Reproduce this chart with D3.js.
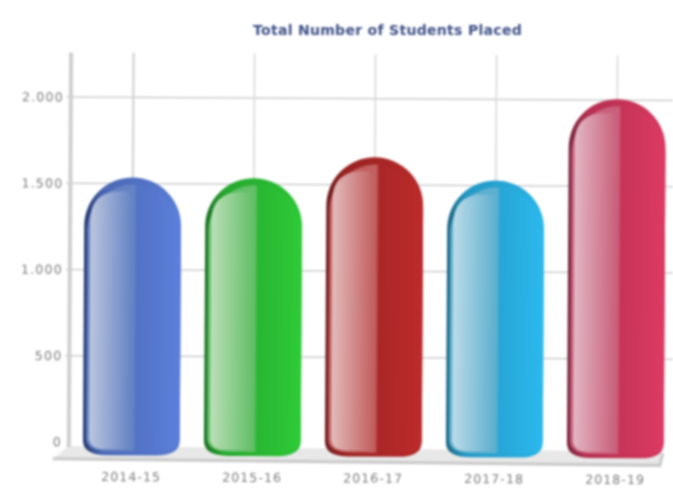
<!DOCTYPE html>
<html>
<head>
<meta charset="utf-8">
<script src="https://cdn.jsdelivr.net/npm/d3@7/dist/d3.min.js"></script>
<style>
  html, body { margin: 0; padding: 0; background: #fff; }
  svg { display: block; filter: blur(0.8px); }
</style>
</head>
<body>
<div id="chart"></div>
<script>
const title = "Total Number of Students Placed";
const years = ["2014-15", "2015-16", "2016-17", "2017-18", "2018-19"];
const placed = [1535, 1535, 1660, 1530, 2005];
const yTicks = [0, 500, 1000, 1500, 2000];

const baseColors = ["#5b7fdb", "#2ecb38", "#bd2b2b", "#2bb9ee", "#dd3a62"];
const midColors = ["#6583c4", "#63bf68", "#c25f5f", "#5fb0cf", "#c9607b"];
const lightColors = ["#bcc6de", "#bcdfb8", "#e2bcbc", "#bcdce8", "#e2b8c4"];
const rimColors = ["#27396f", "#1b6f25", "#6e1c1c", "#1d6580", "#752640"];

const width = 673, height = 490;
const bottomDrop = 13; // bars hang a little below the zero line

const svg = d3.select("#chart").append("svg")
  .attr("width", width)
  .attr("height", height);

const defs = svg.append("defs");
const root = svg.append("g").attr("transform", "rotate(0.33 336 245)");

const x = d3.scaleBand().domain(years).range([72, 677]).paddingInner(0.2).paddingOuter(0.1);
const y = d3.scaleLinear().domain([0, 2000]).range([443.5, 98.5]);

// gradients for each bar: shell, body and shine
years.forEach((yr, i) => {
  const base = d3.color(baseColors[i]);

  const shell = defs.append("linearGradient").attr("id", `shell${i}`);
  shell.append("stop").attr("offset", "0").attr("stop-color", rimColors[i]);
  shell.append("stop").attr("offset", "0.2").attr("stop-color", base.darker(0.55));
  shell.append("stop").attr("offset", "1").attr("stop-color", base.darker(0.1));

  const body = defs.append("linearGradient").attr("id", `body${i}`);
  body.append("stop").attr("offset", "0").attr("stop-color", midColors[i]);
  body.append("stop").attr("offset", "0.5").attr("stop-color", midColors[i]);
  body.append("stop").attr("offset", "0.53").attr("stop-color", base.darker(0.3));
  body.append("stop").attr("offset", "1").attr("stop-color", base);

  const shine = defs.append("linearGradient").attr("id", `shine${i}`);
  shine.append("stop").attr("offset", "0").attr("stop-color", lightColors[i]);
  shine.append("stop").attr("offset", "1").attr("stop-color", midColors[i]);
});

// axes
const yAxis = d3.axisLeft(y)
  .tickValues(yTicks)
  .tickSize(0)
  .tickPadding(3)
  .tickFormat(d => d3.format(",")(d).replace(",", "."));

const xAxis = d3.axisBottom(x).tickSize(0).tickPadding(0);

root.append("g").selectAll("line")
  .data(yTicks.filter(d => d > 0))
  .join("line")
    .attr("x1", 66).attr("x2", 690)
    .attr("y1", d => y(d)).attr("y2", d => y(d))
    .attr("stroke", "#cdcdcd")
    .attr("stroke-width", 1.6);

root.append("g").selectAll("line")
  .data(years)
  .join("line")
    .attr("x1", d => x(d) + x.bandwidth() / 2)
    .attr("x2", d => x(d) + x.bandwidth() / 2)
    .attr("y1", 54).attr("y2", y(0))
    .attr("stroke", "#d6d6d6")
    .attr("stroke-width", (d, i) => i === 0 ? 2.4 : 1.5);

// floor and back wall edge
root.append("path")
  .attr("d", `M70,${y(0) + 4} L54,${y(0) + 17} L661,${y(0) + 20} L664,${y(0) + 6} Z`)
  .attr("fill", "#e8e8e8");
root.append("path")
  .attr("d", `M54,${y(0) + 17} L661,${y(0) + 20} L664,${y(0) + 8}`)
  .attr("stroke", "#c9c9c9").attr("stroke-width", 3).attr("fill", "none");
root.append("line")
  .attr("x1", 70).attr("x2", 70)
  .attr("y1", 54).attr("y2", y(0) + 5)
  .attr("stroke", "#cfcfcf")
  .attr("stroke-width", 4);

// capsule outline, round on top and flattened at the foot
function capsule(x0, x1, yt, yb, foot) {
  const r = (x1 - x0) / 2;
  return `M${x0},${yb - foot} L${x0},${yt + r} A${r},${r} 0 0 1 ${x1},${yt + r} L${x1},${yb - foot}`
    + ` Q${x1},${yb} ${x1 - foot * 1.6},${yb} L${x0 + foot * 1.6},${yb} Q${x0},${yb} ${x0},${yb - foot} Z`;
}

// left half shine, sits inside the rim
function shinePath(x0, xc, yt, yb) {
  const r = 30;
  return `M${x0},${yb - 12} L${x0},${yt + r} Q${x0},${yt} ${x0 + r},${yt} L${xc - 8},${yt}`
    + ` Q${xc},${yt} ${xc},${yt + 12} L${xc},${yb} L${x0 + 16},${yb} Q${x0},${yb} ${x0},${yb - 12} Z`;
}

const bars = root.append("g").selectAll("g")
  .data(years)
  .join("g");

bars.append("path")
  .attr("d", (d, i) => capsule(x(d), x(d) + x.bandwidth(), y(placed[i]), y(0) + bottomDrop, 15))
  .attr("fill", (d, i) => `url(#shell${i})`);

bars.append("path")
  .attr("d", (d, i) => capsule(x(d) + 3, x(d) + x.bandwidth(), y(placed[i]) + 7, y(0) + bottomDrop - 4, 14))
  .attr("fill", (d, i) => `url(#body${i})`);

bars.append("path")
  .attr("d", (d, i) => shinePath(x(d) + 6, x(d) + x.bandwidth() / 2, y(placed[i]) + 14, y(0) + bottomDrop - 6))
  .attr("fill", (d, i) => `url(#shine${i})`);

// labels
const yG = root.append("g")
  .attr("transform", "translate(66,0)")
  .call(yAxis);
yG.select(".domain").remove();
yG.selectAll("text")
  .attr("fill", "#7c7c7c")
  .attr("font-family", "'DejaVu Sans', sans-serif")
  .attr("font-size", 12.5)
  .attr("letter-spacing", 1.2);

const xG = root.append("g")
  .attr("transform", `translate(0,${y(0) + 30})`)
  .call(xAxis);
xG.select(".domain").remove();
xG.selectAll("text")
  .attr("fill", "#7c7c7c")
  .attr("font-family", "'DejaVu Sans', sans-serif")
  .attr("font-size", 12.5)
  .attr("letter-spacing", 1.1);

svg.append("text")
  .attr("x", 387.5)
  .attr("y", 35)
  .attr("text-anchor", "middle")
  .attr("fill", "#3f5186")
  .attr("font-family", "'DejaVu Sans', sans-serif")
  .attr("font-weight", "bold")
  .attr("font-size", 14)
  .attr("letter-spacing", 0.3)
  .text(title);
</script>
</body>
</html>
